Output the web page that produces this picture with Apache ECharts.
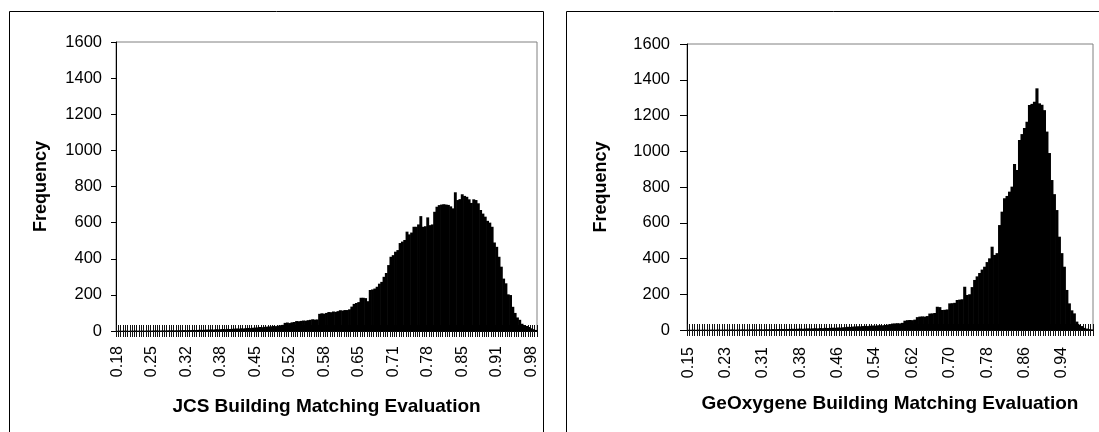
<!DOCTYPE html>
<html>
<head>
<meta charset="utf-8">
<script src="https://cdn.jsdelivr.net/npm/echarts@6/dist/echarts.min.js"></script>
<style>
  html, body { margin: 0; padding: 0; background: #fff; }
  #chart { width: 1099px; height: 432px; }
</style>
</head>
<body>
<div id="chart"></div>
<script>
// histogram bins, 15 bins between two shown labels
const jcsTickLabels = ["0.18", "0.25", "0.32", "0.38", "0.45", "0.52", "0.58", "0.65", "0.71", "0.78", "0.85", "0.91", "0.98"];
const jcsFreq = [
  0, 1, 0, 1, 1, 0, 1, 1, 2, 1,
  1, 2, 1, 2, 2, 1, 2, 3, 2, 2,
  3, 2, 3, 3, 4, 3, 3, 4, 4, 5,
  4, 5, 5, 6, 5, 6, 7, 6, 7, 8,
  8, 9, 8, 10, 9, 10, 11, 10, 12, 11,
  12, 13, 14, 13, 15, 14, 16, 17, 16, 18,
  19, 20, 22, 21, 23, 24, 25, 26, 28, 27,
  30, 32, 34, 45, 47, 44, 48, 50, 55, 54,
  56, 58, 57, 60, 62, 65, 63, 64, 95, 98,
  96, 100, 105, 104, 108, 106, 110, 115, 113, 116,
  116, 120, 135, 150, 155, 160, 184, 184, 182, 165,
  227, 230, 235, 245, 262, 272, 300, 321, 365, 411,
  420, 439, 448, 487, 495, 504, 550, 535, 545, 577,
  577, 590, 636, 577, 580, 629, 586, 590, 660, 688,
  697, 700, 702, 700, 698, 690, 679, 768, 725, 730,
  757, 748, 743, 729, 709, 729, 725, 707, 670, 650,
  633, 610, 600, 577, 490, 466, 411, 356, 290, 264,
  203, 199, 134, 100, 75, 62, 40, 33, 28, 22,
  15, 10, 6
];

const geoTickLabels = ["0.15", "0.23", "0.31", "0.38", "0.46", "0.54", "0.62", "0.70", "0.78", "0.86", "0.94"];
const geoFreq = [
  0, 0, 1, 0, 1, 0, 1, 1, 0, 1,
  1, 1, 2, 1, 1, 2, 1, 2, 2, 1,
  2, 2, 3, 2, 2, 3, 3, 2, 3, 4,
  3, 4, 4, 3, 5, 4, 5, 5, 6, 5,
  6, 6, 7, 6, 7, 8, 7, 8, 9, 8,
  9, 10, 9, 11, 10, 12, 11, 12, 13, 12,
  14, 13, 15, 16, 18, 17, 19, 20, 21, 20,
  22, 23, 22, 24, 25, 24, 26, 27, 26, 28,
  30, 33, 36, 37, 38, 37, 40, 52, 55, 56,
  55, 58, 72, 75, 76, 75, 78, 92, 93, 95,
  130, 128, 112, 113, 115, 149, 150, 152, 168, 170,
  172, 242, 196, 200, 240, 280, 300, 319, 338, 354,
  380, 401, 466, 420, 430, 587, 662, 737, 750, 774,
  802, 928, 895, 1063, 1096, 1130, 1165, 1259, 1265, 1277,
  1352, 1268, 1260, 1230, 1110, 990, 839, 760, 671, 522,
  430, 354, 224, 149, 110, 93, 47, 30, 22, 12,
  8, 5, 3
];

const yTicks = { min: 0, max: 1600, interval: 200 };
const binsPerLabel = 15;
const font = "Liberation Sans, Arial, sans-serif";

const chart = echarts.init(document.getElementById("chart"));

function binCats(arr) {
  return arr.map((v, i) => String(i));
}

function xAxes(gridIndex, cats, labels, opts) {
  return [
    {
      type: "category",
      gridIndex: gridIndex,
      position: "bottom",
      data: cats,
      name: opts.name,
      nameLocation: "middle",
      nameGap: opts.nameGap,
      nameTextStyle: { fontFamily: font, fontSize: 19, fontWeight: "bold", color: "#000" },
      axisLine: { lineStyle: { color: "#000", width: 1 } },
      axisTick: { show: true, interval: 0, length: 6, lineStyle: { color: "#111", width: 1 } },
      axisLabel: {
        interval: binsPerLabel - 1,
        rotate: 90,
        margin: opts.labelMargin,
        fontFamily: font,
        fontSize: 16,
        color: "#000",
        formatter: (v, i) => labels[i / binsPerLabel] || "",
      },
    },
    {
      // second copy only for the ticks that reach into the plot (cross ticks)
      type: "category",
      gridIndex: gridIndex,
      position: "bottom",
      data: cats,
      axisLine: { show: false },
      axisTick: { show: true, interval: 0, inside: true, length: 6, lineStyle: { color: "#111", width: 1 } },
      axisLabel: { show: false },
    },
  ];
}

function yAxis(gridIndex, opts) {
  return {
    type: "value",
    gridIndex: gridIndex,
    min: yTicks.min,
    max: yTicks.max,
    interval: yTicks.interval,
    name: "Frequency",
    nameLocation: "middle",
    nameGap: opts.nameGap,
    nameTextStyle: { fontFamily: font, fontSize: 18, fontWeight: "bold", color: "#000" },
    axisLine: { show: true, lineStyle: { color: "#000", width: 1 } },
    axisTick: { show: true, length: opts.tickLen, lineStyle: { color: "#000" } },
    axisLabel: {
      margin: opts.labelMargin,
      fontFamily: font,
      fontSize: 16.5,
      color: "#000",
      formatter: (v) => String(v),
    },
    splitLine: { show: false },
  };
}

const barStyle = { color: "#000" };

const option = {
  animation: false,
  backgroundColor: "#fff",
  graphic: [
    {
      type: "rect",
      shape: { x: 9.5, y: 11.5, width: 534, height: 440 },
      style: { fill: "none", stroke: "#000", lineWidth: 1 },
    },
    {
      type: "rect",
      shape: { x: 566.5, y: 11.5, width: 560, height: 440 },
      style: { fill: "none", stroke: "#000", lineWidth: 1 },
    },
  ],
  grid: [
    { left: 116, top: 42, width: 421, height: 289, show: true, borderColor: "#808080", borderWidth: 1 },
    { left: 687, top: 44, width: 406, height: 286, show: true, borderColor: "#808080", borderWidth: 1 },
  ],
  xAxis: [
    ...xAxes(0, binCats(jcsFreq), jcsTickLabels, {
      name: "JCS Building Matching Evaluation",
      nameGap: 66,
      labelMargin: 15,
    }),
    ...xAxes(1, binCats(geoFreq), geoTickLabels, {
      name: "GeOxygene Building Matching Evaluation",
      nameGap: 64,
      labelMargin: 17,
    }),
  ],
  yAxis: [
    yAxis(0, { nameGap: 66, labelMargin: 14, tickLen: 5 }),
    yAxis(1, { nameGap: 77, labelMargin: 17, tickLen: 7 }),
  ],
  series: [
    {
      type: "bar",
      xAxisIndex: 0,
      yAxisIndex: 0,
      data: jcsFreq,
      barWidth: 2.9,
      itemStyle: barStyle,
    },
    {
      type: "bar",
      xAxisIndex: 2,
      yAxisIndex: 1,
      data: geoFreq,
      barWidth: 3.1,
      itemStyle: barStyle,
    },
  ],
};

chart.setOption(option);
</script>
</body>
</html>
